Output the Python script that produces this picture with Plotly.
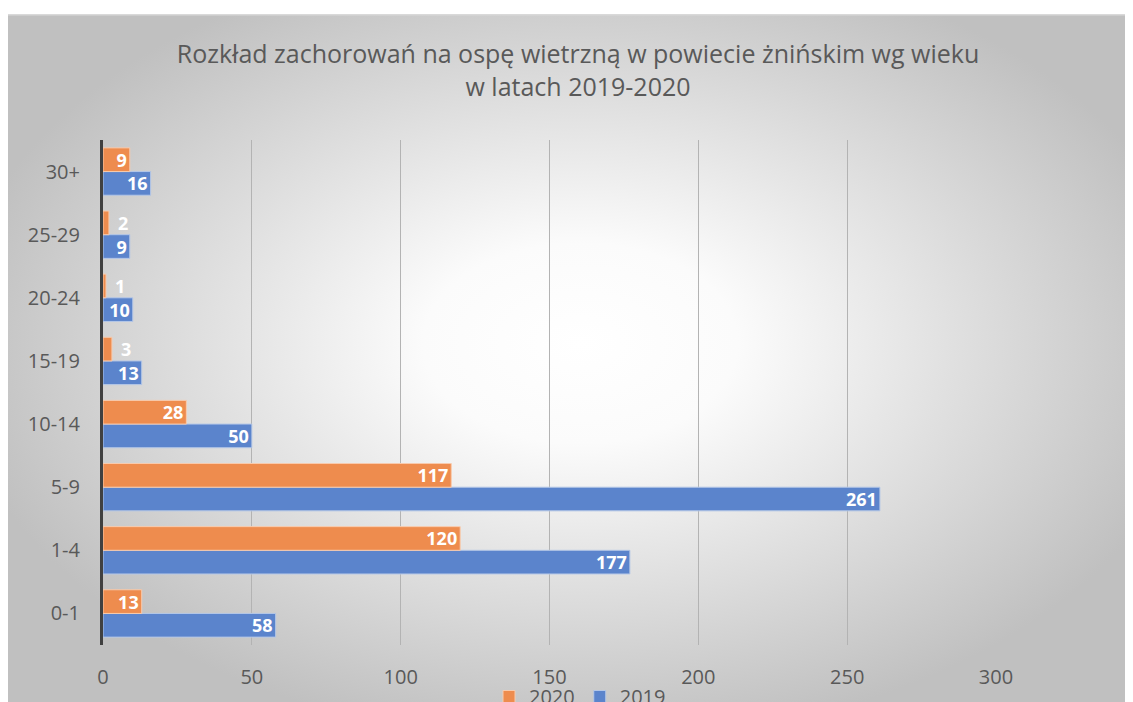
import base64
import plotly.graph_objects as go

# ── Dane ──────────────────────────────────────────────────────────────────────
AGE_GROUPS = ["0-1", "1-4", "5-9", "10-14", "15-19", "20-24", "25-29", "30+"]
CASES_2019 = [58, 177, 261, 50, 13, 10, 9, 16]
CASES_2020 = [13, 120, 117, 28, 3, 1, 2, 9]
X_TICKS = [0, 50, 100, 150, 200, 250, 300]

TITLE = ("Rozkład zachorowań na ospę wietrzną w powiecie żnińskim wg wieku"
         "<br>w latach 2019-2020")

# ── Wygląd ────────────────────────────────────────────────────────────────────
W, H = 1133, 702
OFF = 8  # margines <body> strony przesuwa wykres o 8 px
M_L, M_T = 103 - OFF, 140 - OFF
PLOT_W, PLOT_H = 893, 505
M_R = W - M_L - PLOT_W
M_B = H - M_T - PLOT_H
FONT = "Open Sans, sans-serif"
GREY_TXT = "#595959"
ORANGE = "#ee8c4e"
BLUE = "#5b84cc"


def px_to_paper(x, y):
    """piksele referencji -> współrzędne 'paper'"""
    return (x - OFF - M_L) / PLOT_W, (M_T + PLOT_H - (y - OFF)) / PLOT_H


# tło wykresu: gradient radialny jak w Excelu
svg = """<svg xmlns='http://www.w3.org/2000/svg' width='1124' height='716'
 preserveAspectRatio='none' viewBox='0 0 1124 716'>
<defs><radialGradient id='g' cx='51%' cy='46%' r='56%'>
<stop offset='0' stop-color='#ffffff'/>
<stop offset='0.25' stop-color='#fbfbfb'/>
<stop offset='1' stop-color='#c0c0c0'/>
</radialGradient></defs>
<rect width='1124' height='716' fill='url(#g)'/>
<rect x='0' y='0' width='1124' height='1.5' fill='#d9d9d9'/>
</svg>"""
bg_src = "data:image/svg+xml;base64," + base64.b64encode(svg.encode()).decode()
x0, y0 = px_to_paper(7, 14)
x1, y1 = px_to_paper(1131, 730)


def positions(vals):
    return ["outside" if v < 5 else "inside" for v in vals]


label_font = dict(color="white", size=18, family=FONT, weight="bold")

fig = go.Figure()
fig.add_trace(go.Bar(
    y=AGE_GROUPS, x=CASES_2019, name="2019", orientation="h",
    marker=dict(color=BLUE, line=dict(color="#b4c7e7", width=1)),
    text=CASES_2019, textposition=positions(CASES_2019),
    insidetextanchor="end", textangle=0,
    textfont=label_font, outsidetextfont=label_font,
))
fig.add_trace(go.Bar(
    y=AGE_GROUPS, x=CASES_2020, name="2020", orientation="h",
    marker=dict(color=ORANGE, line=dict(color="#f8cbad", width=1)),
    text=CASES_2020, textposition=positions(CASES_2020),
    texttemplate=["\u2009\u2009%{x}" if v < 5 else "%{x}" for v in CASES_2020],
    insidetextanchor="end", textangle=0,
    textfont=label_font, outsidetextfont=label_font,
))

fig.update_layout(
    width=W, height=H,
    paper_bgcolor="white", plot_bgcolor="rgba(0,0,0,0)",
    margin=dict(l=M_L, r=M_R, t=M_T, b=M_B, autoexpand=False),
    font=dict(family=FONT, color=GREY_TXT, size=20),
    barmode="group", bargap=0.25, bargroupgap=0,
    uniformtext=dict(minsize=18, mode="show"),
    title=dict(text=TITLE, x=px_to_paper(578, 0)[0], xref="paper",
               xanchor="center", y=1 - (63 - OFF) / H, yref="container",
               yanchor="top",
               font=dict(size=25, color=GREY_TXT, family=FONT)),
    legend=dict(orientation="h", traceorder="reversed",
                x=px_to_paper(580, 0)[0], xanchor="center",
                y=px_to_paper(0, 677)[1], yanchor="top",
                font=dict(size=20, color=GREY_TXT), bgcolor="rgba(0,0,0,0)"),
    images=[dict(source=bg_src, xref="paper", yref="paper",
                 x=x0, y=y0, sizex=x1 - x0, sizey=y0 - y1,
                 xanchor="left", yanchor="top", sizing="stretch",
                 layer="below")],
    showlegend=True,
)
fig.update_xaxes(range=[0, 300], tickvals=X_TICKS, showgrid=True,
                 gridcolor="#b3b3b3", gridwidth=1, zeroline=False,
                 showline=False, ticks="outside", ticklen=14,
                 tickcolor="rgba(0,0,0,0)", tickfont=dict(size=20))
fig.update_yaxes(categoryorder="array", categoryarray=AGE_GROUPS,
                 showgrid=False, zeroline=False, showline=True,
                 linecolor="#404040", linewidth=3, ticks="outside",
                 ticklen=16, tickcolor="rgba(0,0,0,0)",
                 tickfont=dict(size=20))

fig.write_html("out.html")
